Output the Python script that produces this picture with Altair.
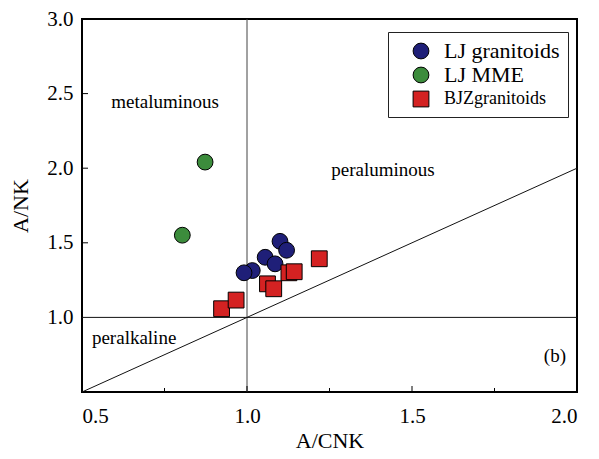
import altair as alt
import pandas as pd

# ---- data ----
lj_x = [1.100, 1.120, 1.055, 1.085, 1.016, 0.991]
lj_y = [1.510, 1.450, 1.403, 1.359, 1.314, 1.299]
mme_x = [0.873, 0.804]
mme_y = [2.041, 1.551]
bjz_x = [0.923, 0.967, 1.062, 1.081, 1.127, 1.143, 1.219]
bjz_y = [1.058, 1.116, 1.225, 1.192, 1.299, 1.306, 1.393]

groups = ["LJ granitoids", "LJ MME", "BJZgranitoids"]
colors = ["#1f1f78", "#3c8c3c", "#d42222"]
shapes = ["circle", "circle", "square"]
sizes = [250, 250, 170]

x_tick_labels = [0.5, 1.0, 1.5, 2.0]
y_tick_labels = [1.0, 1.5, 2.0, 2.5, 3.0]
x_major_inner = [1.0, 1.5]
x_minor_inner = [0.75, 1.25, 1.75]
y_major_inner = [1.5, 2.0, 2.5]

# reference lines: vertical A/CNK=1, horizontal A/NK=1, diagonal A/NK=A/CNK
seg_x = [1.0, 0.5, 0.5]
seg_y = [0.5, 1.0, 0.5]
seg_x2 = [1.0, 2.0, 2.0]
seg_y2 = [3.0, 1.0, 2.0]
seg_color = ["#444444", "#111111", "#111111"]

region_text = ["metaluminous", "peraluminous", "peralkaline", "(b)"]
region_x = [0.752, 1.412, 0.658, 1.933]
region_y = [2.445, 1.99, 0.86, 0.739]

W, H = 495, 373
FONT = "Liberation Serif"

pts = pd.DataFrame({
    "x": lj_x + mme_x + bjz_x,
    "y": lj_y + mme_y + bjz_y,
    "group": [groups[0]] * len(lj_x) + [groups[1]] * len(mme_x) + [groups[2]] * len(bjz_x),
})
segs = pd.DataFrame({"x": seg_x, "y": seg_y, "x2": seg_x2, "y2": seg_y2, "c": seg_color})
labels = pd.DataFrame({"x": region_x, "y": region_y, "t": region_text})

xscale = alt.Scale(domain=[0.5, 2.0], nice=False, zero=False)
yscale = alt.Scale(domain=[0.5, 3.0], nice=False, zero=False)
xaxis = alt.Axis(values=x_tick_labels, format=".1f", ticks=False, tickSize=0, domain=False,
                 grid=False, labelPadding=13, titlePadding=4, labelFontSize=21,
                 titleFontSize=22, labelFont=FONT, titleFont=FONT)
yaxis = alt.Axis(values=y_tick_labels, format=".1f", ticks=False, tickSize=0, domain=False,
                 grid=False, labelPadding=9, titlePadding=14, labelFontSize=21,
                 titleFontSize=22, labelFont=FONT, titleFont=FONT)

X = alt.X("x:Q", scale=xscale, axis=xaxis, title="A/CNK")
Y = alt.Y("y:Q", scale=yscale, axis=yaxis, title="A/NK")

lines = alt.Chart(segs).mark_rule(strokeWidth=1).encode(
    x=X, y=Y, x2="x2:Q", y2="y2:Q", color=alt.Color("c:N", scale=None)
)

text = alt.Chart(labels).mark_text(font=FONT, fontSize=19, color="black").encode(
    x=X, y=Y, text="t:N"
)

legend = alt.Legend(title=None, orient="none", legendX=306, legendY=13,
                    labelFont=FONT,
                    labelFontSize={"expr": "datum.value == 'BJZgranitoids' ? 18 : 22"},
                    labelColor="black",
                    padding=8, strokeColor="#222222", fillColor="white",
                    symbolStrokeColor="black",
                    symbolStrokeWidth=1, rowPadding=2, symbolOffset=14,
                    labelOffset=12, labelLimit=300)

points = alt.Chart(pts).mark_point(filled=True, opacity=1, stroke="black",
                                   strokeWidth=1).encode(
    x=X, y=Y,
    color=alt.Color("group:N", scale=alt.Scale(domain=groups, range=colors),
                    sort=groups, legend=legend),
    shape=alt.Shape("group:N", scale=alt.Scale(domain=groups, range=shapes), sort=groups,
                    legend=legend),
    size=alt.Size("group:N", scale=alt.Scale(domain=groups, range=sizes), sort=groups,
                  legend=legend),
)

tick_df_maj = pd.DataFrame({"x": x_major_inner})
tick_df_min = pd.DataFrame({"x": x_minor_inner})
tick_df_y = pd.DataFrame({"y": y_major_inner})

xt_major = alt.Chart(tick_df_maj).mark_rule(color="black", strokeWidth=1).encode(
    x=X, y=alt.value(H), y2=alt.value(H - 6))
xt_minor = alt.Chart(tick_df_min).mark_rule(color="black", strokeWidth=1).encode(
    x=X, y=alt.value(H), y2=alt.value(H - 4))
yt_major = alt.Chart(tick_df_y).mark_rule(color="black", strokeWidth=1).encode(
    y=Y, x=alt.value(0), x2=alt.value(6))

chart = alt.layer(lines, xt_major, xt_minor, yt_major, text, points).properties(
    width=W, height=H,
    autosize=alt.AutoSizeParams(type="none"),
    padding={"left": 74, "top": 11, "right": 14, "bottom": 59},
).configure(font=FONT).configure_view(
    stroke="black", strokeWidth=2
).configure_axis(
    labelColor="black", titleColor="black", titleFontWeight="normal",
    labelFont=FONT, titleFont=FONT
).configure_legend(labelFont=FONT, titleFont=FONT)

chart.save("out.html", embed_options={"renderer": "svg", "actions": False})
